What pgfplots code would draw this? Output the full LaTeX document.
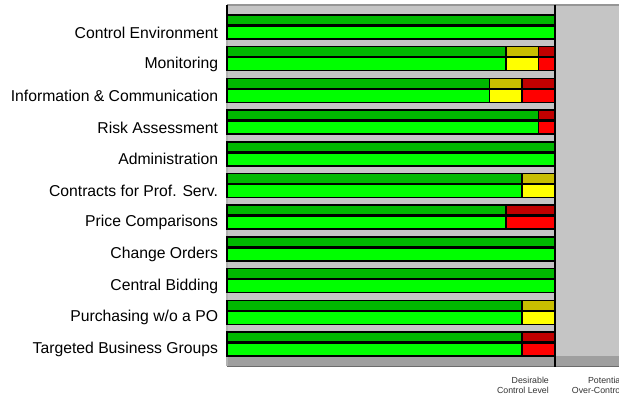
\documentclass[border=0pt]{standalone}
\usepackage{fontspec}
\setmainfont{Liberation Sans}
\usepackage{pgfplots}
\pgfplotsset{compat=1.18}

\definecolor{dkgreen}{RGB}{0,184,0}
\definecolor{ltgreen}{RGB}{0,255,0}
\definecolor{dkyellow}{RGB}{200,190,0}
\definecolor{ltyellow}{RGB}{255,255,0}
\definecolor{dkred}{RGB}{192,0,0}
\definecolor{ltred}{RGB}{255,0,0}
\definecolor{bggray}{RGB}{197,197,197}
\definecolor{edgegray}{RGB}{150,150,150}

\begin{document}
\begin{tikzpicture}
% 1px = 0.75pt; picture is 619x400 px
\begin{axis}[
  at={(170.25pt,24.75pt)}, anchor=south west,
  scale only axis, width=294pt, height=272.25pt,
  xmin=0, xmax=119.5, ymin=4, ymax=367, y dir=reverse,
  axis line style={draw=none}, clip=false,
  xtick=\empty,
  ytick={32.5,64.2,95.9,127.6,159.3,191,222.7,254.4,286.1,317.8,349.5},
  yticklabels={Control Environment,Monitoring,Information \& Communication,Risk Assessment,Administration,Contracts for Prof. Serv.,Price Comparisons,Change Orders,Central Bidding,Purchasing w/o a PO,Targeted Business Groups},
  major tick length=0pt,
  yticklabel style={font=\fontsize{11.8}{12}\selectfont, inner sep=0pt, xshift=-6.5pt},
  xbar, bar shift=0pt,
  every axis plot/.append style={draw=black, line width=1.1pt},
]
% background panel
\fill[bggray] (axis cs:0,4) rectangle (axis cs:119.5,366);
\fill[edgegray] (axis cs:0,4) rectangle (axis cs:119.5,5.5);
\fill[gray!75] (axis cs:0,355.5) rectangle (axis cs:119.5,366);
\draw[gray!85!black, line width=0.6pt] (axis cs:0,366) -- (axis cs:119.5,366);
\draw[gray!60, line width=0.8pt] (axis cs:0,5) -- (axis cs:0,366);

% dark (upper) bars: red, yellow, green cumulative ends
\addplot[fill=dkred, bar width=10] coordinates {(100,51.7) (100,83.4) (100,115.1) (100,210.2) (100,337)};
\addplot[fill=dkyellow, bar width=10] coordinates {(95,51.7) (90,83.4) (100,178.5) (100,305.3)};
\addplot[fill=dkgreen, bar width=10] coordinates {
 (100,20) (85,51.7) (80,83.4) (95,115.1) (100,146.8) (90,178.5)
 (85,210.2) (100,241.9) (100,273.6) (90,305.3) (90,337)};

% bright (lower) bars
\addplot[fill=ltred, bar width=13] coordinates {(100,64.2) (100,95.9) (100,127.6) (100,222.7) (100,349.5)};
\addplot[fill=ltyellow, bar width=13] coordinates {(95,64.2) (90,95.9) (100,191) (100,317.8)};
\addplot[fill=ltgreen, bar width=13] coordinates {
 (100,32.5) (85,64.2) (80,95.9) (95,127.6) (100,159.3) (90,191)
 (85,222.7) (100,254.4) (100,286.1) (90,317.8) (90,349.5)};

\draw[black, line width=1.2pt] (axis cs:100,4.5) -- (axis cs:100,367);
\draw[black, line width=0.8pt] (axis cs:0,4.5) -- (axis cs:0,14);

\node[anchor=north east, align=right, inner sep=0pt, font=\fontsize{6.6}{7.6}\selectfont, text=black!80]
  at (axis cs:98.2,376.5) {Desirable\\Control Level};
\node[anchor=north east, align=right, inner sep=0pt, font=\fontsize{6.6}{7.6}\selectfont, text=black!80]
  at (axis cs:120.6,376.5) {Potential\\Over-Control};
\end{axis}
\pgfresetboundingbox
\path[use as bounding box] (0,0) rectangle (464.25pt,300pt);
\end{tikzpicture}
\end{document}
